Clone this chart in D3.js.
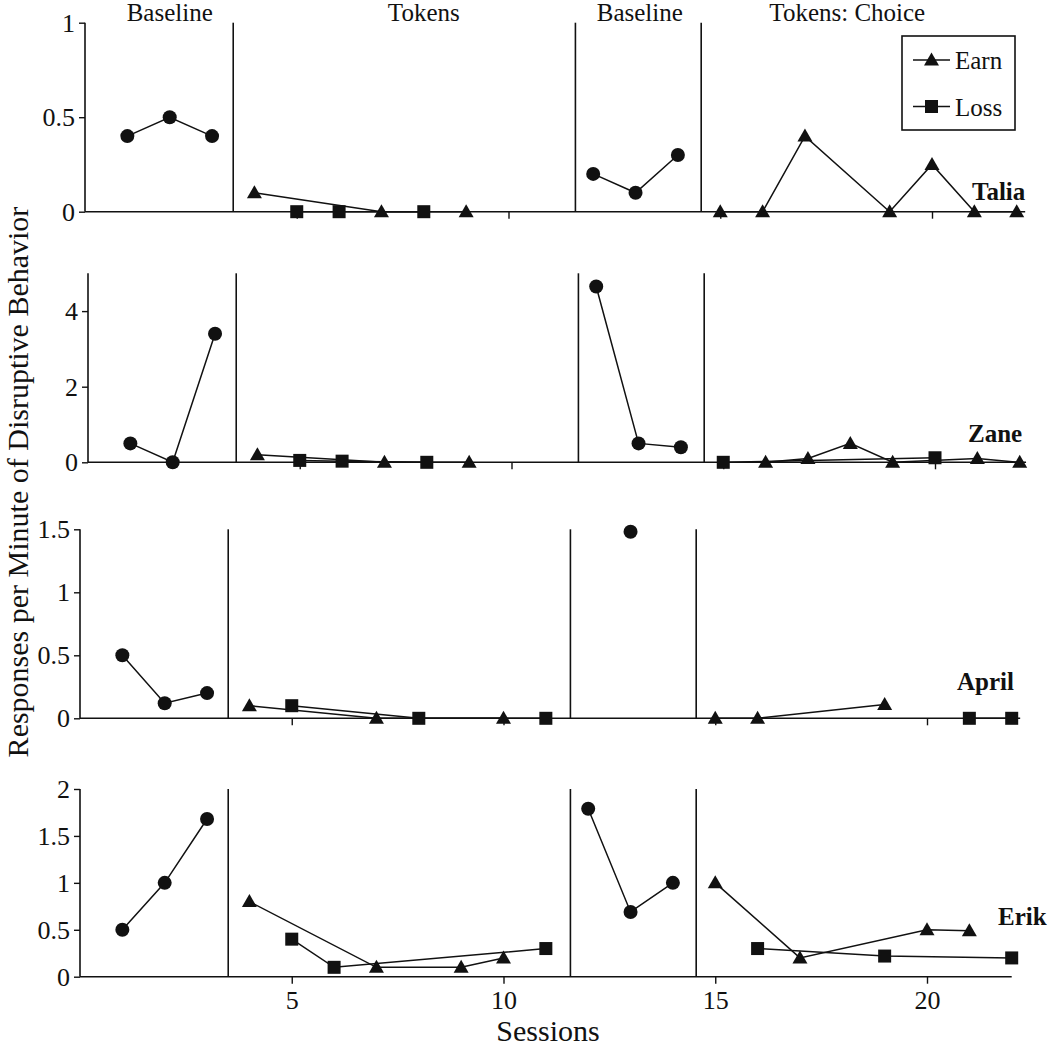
<!DOCTYPE html>
<html><head><meta charset="utf-8">
<script src="https://cdn.jsdelivr.net/npm/d3@7"></script>
<style>
body{margin:0;background:#fff}
svg text{font-family:"Liberation Serif","DejaVu Serif","Times New Roman",serif;}
</style>
</head><body>
<svg id="c" width="1050" height="1050"></svg>
<script>
// ---------- data ----------
const participants = ["Talia", "Zane", "April", "Erik"];
const yDomains = [[0, 1], [0, 5], [0, 1.5], [0, 2]];
const yTicks = [[0, 0.5, 1], [0, 2, 4], [0, 0.5, 1, 1.5], [0, 0.5, 1, 1.5, 2]];
const xTicks = [5, 10, 15, 20];
const phaseChanges = [3.5, 11.58, 14.55];
const phaseNames = ["Baseline", "Tokens", "Baseline", "Tokens: Choice"];
const phaseNameAt = [2, 8, 13.1, 18];
const legendNames = ["Earn", "Loss"];
const xTitle = "Sessions";
const yTitle = "Responses per Minute of Disruptive Behavior";

// Talia
const taliaBaseline1 = [[1, 0.4], [2, 0.5], [3, 0.4]];
const taliaTokensEarn = [[4, 0.1], [7, 0], [9, 0]];
const taliaTokensLoss = [[5, 0], [6, 0], [8, 0]];
const taliaBaseline2 = [[12, 0.2], [13, 0.1], [14, 0.3]];
const taliaChoiceEarn = [[15, 0], [16, 0], [17, 0.4], [19, 0], [20, 0.25], [21, 0], [22, 0]];
const taliaChoiceLoss = [];
// Zane
const zaneBaseline1 = [[1, 0.5], [2, 0], [3, 3.4]];
const zaneTokensEarn = [[4, 0.2], [7, 0], [9, 0]];
const zaneTokensLoss = [[5, 0.05], [6, 0.03], [8, 0]];
const zaneBaseline2 = [[12, 4.65], [13, 0.5], [14, 0.4]];
const zaneChoiceEarn = [[16, 0], [17, 0.1], [18, 0.5], [19, 0], [21, 0.1], [22, 0]];
const zaneChoiceLoss = [[15, 0], [20, 0.12]];
// April
const aprilBaseline1 = [[1, 0.5], [2, 0.12], [3, 0.2]];
const aprilTokensEarn = [[4, 0.1], [7, 0], [10, 0]];
const aprilTokensLoss = [[5, 0.1], [8, 0], [11, 0]];
const aprilBaseline2 = [[13, 1.48]];
const aprilChoiceEarn = [[15, 0], [16, 0], [19, 0.11]];
const aprilChoiceLoss = [[21, 0], [22, 0]];
// Erik
const erikBaseline1 = [[1, 0.5], [2, 1.0], [3, 1.68]];
const erikTokensEarn = [[4, 0.8], [7, 0.1], [9, 0.1], [10, 0.2]];
const erikTokensLoss = [[5, 0.4], [6, 0.1], [11, 0.3]];
const erikBaseline2 = [[12, 1.79], [13, 0.69], [14, 1.0]];
const erikChoiceEarn = [[15, 1.0], [17, 0.2], [20, 0.5], [21, 0.49]];
const erikChoiceLoss = [[16, 0.3], [19, 0.22], [22, 0.2]];

const series = [
  [["circle", taliaBaseline1], ["earn", taliaTokensEarn], ["loss", taliaTokensLoss], ["circle", taliaBaseline2], ["earn", taliaChoiceEarn], ["loss", taliaChoiceLoss]],
  [["circle", zaneBaseline1], ["earn", zaneTokensEarn], ["loss", zaneTokensLoss], ["circle", zaneBaseline2], ["earn", zaneChoiceEarn], ["loss", zaneChoiceLoss]],
  [["circle", aprilBaseline1], ["earn", aprilTokensEarn], ["loss", aprilTokensLoss], ["circle", aprilBaseline2], ["earn", aprilChoiceEarn], ["loss", aprilChoiceLoss]],
  [["circle", erikBaseline1], ["earn", erikTokensEarn], ["loss", erikTokensLoss], ["circle", erikBaseline2], ["earn", erikChoiceEarn], ["loss", erikChoiceLoss]]
];

// ---------- layout ----------
const FONT = "Liberation Serif";
const pxPerSession = 42.35;
const panelLeft = [85, 88, 80, 80];
const panelTop = [22.7, 273.3, 529.3, 789];
const panelBottom = [211.7, 462.3, 718.3, 976.7];
const axisEnd = [22.2, 22.15, 22.2, 22.0];
const nameX = [972, 968, 957, 998];
const nameY = [200, 442, 690, 925];

const svg = d3.select("#c");
svg.append("rect").attr("width", 1050).attr("height", 1050).attr("fill", "#fff");

const triPath = "M0,-7.5L7.5,5.5L-7.5,5.5Z";
function drawMarker(g, type, x, y) {
  if (type === "circle") g.append("circle").attr("cx", x).attr("cy", y).attr("r", 7).attr("fill", "#111");
  else if (type === "earn") g.append("path").attr("d", triPath).attr("transform", `translate(${x},${y})`).attr("fill", "#111");
  else g.append("rect").attr("x", x - 6.5).attr("y", y - 6.5).attr("width", 13).attr("height", 13).attr("fill", "#111");
}
function txt(sel, size, weight) {
  return sel.style("font-family", FONT + ", 'DejaVu Serif', serif").attr("font-size", size)
    .attr("font-weight", weight || "normal").attr("fill", "#111");
}

participants.forEach((name, i) => {
  const x = d3.scaleLinear().domain([0, axisEnd[i]]).range([panelLeft[i], panelLeft[i] + axisEnd[i] * pxPerSession]);
  const y = d3.scaleLinear().domain(yDomains[i]).range([panelBottom[i], panelTop[i]]);
  const g = svg.append("g");

  // y axis
  const ya = g.append("g").attr("transform", `translate(${x(0)},0)`)
    .call(d3.axisLeft(y).tickValues(yTicks[i]).tickSize(6).tickPadding(4).tickFormat(d3.format("")));
  ya.attr("font-family", null);
  ya.select(".domain").attr("d", `M0,${y.range()[0]}V${y.range()[1]}`).attr("stroke", "#111").attr("stroke-width", 1.6);
  ya.selectAll(".tick line").attr("stroke", "#111").attr("stroke-width", 1.4);
  txt(ya.selectAll(".tick text"), 26);

  // x axis
  const xa = g.append("g").attr("transform", `translate(0,${y(0)})`)
    .call(d3.axisBottom(x).tickValues(xTicks).tickSize(7).tickPadding(7).tickFormat(d3.format("d")));
  xa.attr("font-family", null);
  xa.select(".domain").attr("d", `M${x.range()[0]},0H${x.range()[1]}`).attr("stroke", "#111").attr("stroke-width", 1.6);
  xa.selectAll(".tick line").attr("stroke", "#111").attr("stroke-width", 1.4);
  txt(xa.selectAll(".tick text"), 26).attr("opacity", i === participants.length - 1 ? 1 : 0);

  // phase change lines
  phaseChanges.forEach(p => {
    g.append("line").attr("x1", x(p)).attr("x2", x(p)).attr("y1", y.range()[1]).attr("y2", y(0))
      .attr("stroke", "#111").attr("stroke-width", 1.6);
  });

  // lines
  const line = d3.line().x(d => x(d[0])).y(d => y(d[1]));
  series[i].forEach(([type, pts]) => {
    if (pts.length > 1) g.append("path").attr("d", line(pts)).attr("fill", "none").attr("stroke", "#111").attr("stroke-width", 1.5);
  });
  series[i].forEach(([type, pts]) => {
    pts.forEach(d => drawMarker(g, type, x(d[0]), y(d[1])));
  });

  // participant name
  txt(g.append("text").attr("x", nameX[i]).attr("y", nameY[i]).text(name), 25, "bold");

  if (i === 0) {
    phaseNames.forEach((t, k) => {
      txt(g.append("text").attr("x", x(phaseNameAt[k])).attr("y", 21).attr("text-anchor", "middle").text(t), 25);
    });
    // legend
    const lg = g.append("g");
    lg.append("rect").attr("x", 902).attr("y", 36).attr("width", 113).attr("height", 94)
      .attr("fill", "#fff").attr("stroke", "#111").attr("stroke-width", 1.6);
    legendNames.forEach((t, k) => {
      const ly = 60 + k * 46.5;
      lg.append("line").attr("x1", 913).attr("x2", 950).attr("y1", ly).attr("y2", ly).attr("stroke", "#111").attr("stroke-width", 1.5);
      drawMarker(lg, k === 0 ? "earn" : "loss", 931.5, ly);
      txt(lg.append("text").attr("x", 955).attr("y", ly + 9).text(t), 25);
    });
  }
  if (i === participants.length - 1) {
    txt(g.append("text").attr("x", 548).attr("y", 1041).attr("text-anchor", "middle").text(xTitle), 30);
  }
});

txt(svg.append("text").attr("transform", "translate(28,482) rotate(-90)").attr("text-anchor", "middle")
  .text(yTitle), 30);
</script>
</body></html>
